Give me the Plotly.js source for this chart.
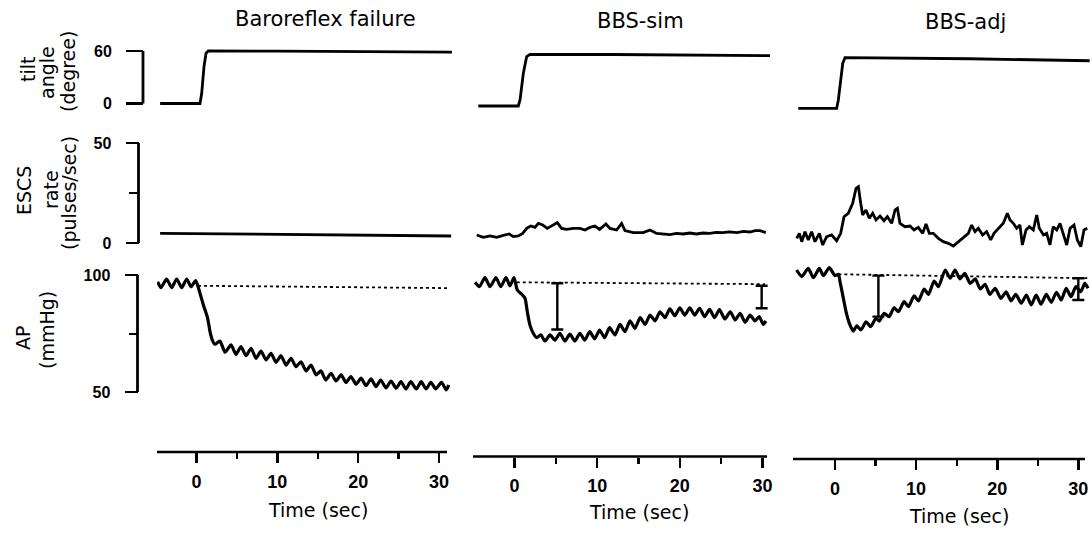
<!DOCTYPE html>
<html>
<head>
<meta charset="utf-8">
<script src="https://cdn.plot.ly/plotly-3.0.1.min.js"></script>
<style>html,body{margin:0;padding:0;background:#fff;}#chart{width:1090px;height:533px;}</style>
</head>
<body>
<div id="chart"></div>
<script>
// ---------------- DATA ----------------
const columnTitles = ["Baroreflex failure", "BBS-sim", "BBS-adj"];
const rowTitles = [["tilt", "angle", "(degree)"], ["ESCS", "rate", "(pulses/sec)"], ["AP", "(mmHg)"]];
const xTitle = "Time (sec)";
const xTickVals = [0, 10, 20, 30];
const xTickText = ["0", "10", "20", "30"];
const xMinorVals = [5, 15, 25];
const yTickVals = [[0, 60], [0, 50], [50, 100]];
const yTickText = [["0", "60"], ["0", "50"], ["50", "100"]];
const yMinorVals = [[], [25], [75]];

// tilt angle (degree): [time s, value]
const tilt1 = [[-4.5,0],[0.43,0],[0.64,11.4],[0.93,42.3],[1.18,57.5],[1.46,60],[10,59.8],[20,59.4],[31.6,58.8]];
const tilt2 = [[-4.38,1.7],[0.46,1.7],[0.67,8.6],[1.07,39.1],[1.47,58.1],[1.87,60.8],[12,60.6],[22,60.0],[31.1,59.2]];
const tilt3 = [[-4.53,1.9],[0.21,1.9],[0.41,11.4],[0.7,34.3],[0.95,53.4],[1.23,59.8],[16.6,58.6],[31.4,56.3]];

// ESCS rate (pulses/sec)
const escs1 = [[-4.5,4.85],[5,4.5],[15,4.0],[25,3.7],[31.5,3.5]];
const escs2 = [[-4.57,6.0],[-3.77,4.8],[-2.96,5.5],[-2.15,4.8],[-1.35,5.8],[-0.63,6.5],[-0.14,5.2],[0.46,5.5],[0.99,6.8],[1.47,9.3],[1.96,10.5],[2.48,9.8],[2.88,11.8],[3.41,11.0],[3.97,9.3],[4.62,11.0],[5.18,12.2],[5.7,9.3],[6.3,8.8],[7.1,9.3],[7.92,9.3],[8.52,8.5],[9.13,9.8],[9.73,10.5],[10.3,8.8],[11.06,11.5],[11.55,9.3],[12.36,8.5],[12.96,11.8],[13.36,8.2],[14.37,7.2],[15.57,7.2],[16.4,8.5],[17.2,6.8],[18.0,6.5],[18.8,6.2],[19.6,6.8],[20.4,6.5],[21.2,7.0],[22.0,6.5],[22.8,7.0],[23.6,6.8],[24.4,7.3],[25.2,7.2],[26.0,7.6],[26.9,7.2],[27.7,7.8],[28.5,7.5],[29.1,8.2],[29.7,8.2],[30.4,7.2]];
const escs3 = [[-4.72,5.6],[-4.4,8.1],[-4.1,3.9],[-3.7,8.9],[-3.29,4.75],[-2.88,8.9],[-2.47,3.9],[-1.93,8.1],[-1.52,2.25],[-1.03,6.4],[-0.41,7.25],[0.2,4.4],[0.7,8.1],[1.11,16.4],[1.64,18.1],[2.18,23.1],[2.59,30.6],[2.88,31.4],[3.17,23.1],[3.41,17.25],[3.82,19.75],[4.23,15.6],[4.65,18.1],[5.06,14.75],[5.55,16.75],[6.04,14.4],[6.45,16.4],[6.99,13.1],[7.4,19.75],[7.69,20.6],[8.01,13.1],[8.63,11.4],[9.25,11.75],[9.74,9.75],[10.27,11.1],[10.81,8.1],[11.22,12.75],[11.63,8.1],[12.12,8.1],[12.74,5.6],[13.35,3.9],[13.97,3.1],[14.59,1.75],[15.2,3.9],[15.82,5.6],[16.44,8.1],[16.85,12.25],[17.26,8.9],[17.67,10.6],[18.2,7.25],[18.7,8.9],[19.2,4.75],[19.6,8.1],[20.1,10.1],[20.75,13.1],[21.25,18.1],[21.58,14.75],[21.99,13.1],[22.4,10.6],[22.8,12.25],[23.1,2.25],[23.55,9.75],[23.96,11.4],[24.45,9.75],[24.87,17.25],[25.19,10.6],[25.7,7.25],[26.1,8.1],[26.5,2.25],[26.9,11.4],[27.34,9.75],[27.74,13.1],[28.15,8.1],[28.57,2.25],[28.98,10.6],[29.47,12.25],[29.88,4.75],[30.3,1.4],[30.7,9.75],[31.1,10.6]];

// AP (mmHg)
const ap1 = [[-4.8,97.1],[-4.4,94.6],[-3.7,98.3],[-3.07,94.6],[-2.45,98.3],[-1.83,94.6],[-1.21,98.3],[-0.68,95.0],[-0.1,97.6],[0.31,93.6],[0.85,87.2],[1.38,81.5],[1.67,75.8],[1.96,72.2],[2.29,70.4],[2.9,71.8],[3.53,67.0],[4.27,70.1],[4.89,66.1],[5.5,69.4],[6.13,65.5],[6.75,68.7],[7.36,64.4],[7.98,67.5],[8.6,63.7],[9.22,66.5],[9.84,62.7],[10.46,65.5],[11.08,61.5],[11.7,64.4],[12.3,60.8],[12.93,62.9],[13.55,59.0],[14.17,61.5],[14.8,57.3],[15.4,59.0],[16.0,55.1],[16.65,58.0],[17.26,54.7],[17.9,57.3],[18.5,54.1],[19.1,56.6],[19.75,53.3],[20.36,55.9],[20.98,52.7],[21.6,55.6],[22.2,52.3],[22.8,55.1],[23.45,51.8],[24.07,54.7],[24.7,51.6],[25.3,54.4],[25.9,51.3],[26.5,54.4],[27.2,51.3],[27.8,54.4],[28.4,51.3],[29.0,54.1],[29.6,51.3],[30.3,54.1],[30.9,50.9],[31.2,53.0]];
const ap2 = [[-4.78,98.6],[-4.25,96.7],[-3.57,100.6],[-2.96,96.7],[-2.24,100.6],[-1.67,96.7],[-1.03,100.6],[-0.54,97.1],[-0.06,100.6],[0.34,95.3],[0.87,93.5],[1.27,91.8],[1.55,86.0],[1.87,80.3],[2.27,76.8],[2.68,74.9],[3.17,76.1],[3.69,73.5],[4.29,76.1],[4.9,73.9],[5.5,76.8],[6.1,73.5],[6.7,76.4],[7.3,73.5],[7.9,76.8],[8.5,73.9],[9.1,77.5],[9.7,74.4],[10.3,78.2],[10.9,74.9],[11.5,79.2],[12.15,76.1],[12.76,80.6],[13.36,77.5],[13.97,82.1],[14.57,78.9],[15.2,83.5],[15.8,80.6],[16.4,84.6],[17.0,82.1],[17.6,86.0],[18.2,83.5],[18.8,87.2],[19.4,84.3],[20.0,87.7],[20.6,84.6],[21.2,87.7],[21.8,84.6],[22.4,87.5],[23.0,83.9],[23.6,87.0],[24.2,83.5],[24.8,86.9],[25.45,82.9],[26.1,86.0],[26.7,82.5],[27.3,85.3],[27.9,81.5],[28.5,84.6],[29.1,82.1],[29.6,83.9],[30.1,80.6],[30.4,82.1]];
const ap3 = [[-4.73,104.9],[-4.1,102.1],[-3.3,105.6],[-2.67,101.6],[-1.93,105.6],[-1.44,102.5],[-0.7,105.9],[0,102.5],[0.41,103.1],[0.62,99.9],[1.03,92.8],[1.36,87.1],[1.77,82.1],[2.26,78.8],[2.67,81.1],[3.2,79.3],[3.83,82.8],[4.4,80.7],[5.06,84.3],[5.47,83.1],[6.05,86.4],[6.67,85.0],[7.28,88.8],[7.82,87.1],[8.52,91.4],[9.05,89.2],[9.75,93.9],[10.29,91.7],[10.99,96.8],[11.52,94.5],[12.22,100.2],[12.76,97.8],[13.58,104.9],[14.2,101.4],[14.8,104.9],[15.4,101.1],[16.0,103.5],[16.67,99.2],[17.3,101.1],[17.9,96.8],[18.5,98.8],[19.1,94.5],[19.75,97.1],[20.45,92.8],[21.1,95.6],[21.7,91.7],[22.3,94.5],[22.96,90.7],[23.6,94.2],[24.2,90.0],[24.8,94.2],[25.4,90.3],[26.05,94.5],[26.67,91.1],[27.3,95.4],[27.9,92.1],[28.5,97.1],[29.1,93.5],[29.7,97.8],[30.3,95.6],[30.8,99.2],[31.2,97.1]];

// pre-tilt AP reference level (dotted)
const base1 = [[0.19,95.4],[31.1,94.4]];
const base2 = [[0.27,98.6],[30.3,97.8]];
const base3 = [[0.41,103.1],[31.2,101.4]];

// AP fall markers: time, upper level, lower level
const markT2 = [5.18, 29.9], markTop2 = [98.2, 97.1], markBot2 = [78.4, 87.5];
const markT3 = [5.35, 30.0], markTop3 = [102.5, 101.4], markBot3 = [85.0, 92.1];

// ---------------- LAYOUT GEOMETRY (pixels) ----------------
const W = 1090, H = 533;
const colDomPx = [[157, 452], [473, 770], [793, 1090]];
const colRange = [[-4.887, 31.61], [-5.02, 30.91], [-5.18, 31.44]];
const colOff = [0, 4, 6.5];
const rowDomPx = [[38, 118], [128, 253], [256, 420]];
const rowRange = [[-16.57, 74.86], [-5, 57.5], [38.03, 108.12]];
const xAxisPx = [452, 456.5, 459];
const xLineEnd = [0.983, 0.99, 0.983];
const yAxisPx = [143, 138.5, 137.5];
const yTickLen = [17, 13, 13];
const yMinorLen = [0, 10, 9];

const FT = "DejaVu Sans, sans-serif";
const FN = "Liberation Sans, Arial, sans-serif";

const tiltData = [tilt1, tilt2, tilt3];
const escsData = [escs1, escs2, escs3];
const apData = [ap1, ap2, ap3];
const baseData = [base1, base2, base3];
const marks = [null, [markT2, markTop2, markBot2], [markT3, markTop3, markBot3]];

function yName(k) { return k === 1 ? 'y' : 'y' + k; }
function yKey(k) { return k === 1 ? 'yaxis' : 'yaxis' + k; }
function xName(c) { return c === 0 ? 'x' : 'x' + (c + 1); }
function xKey(c) { return c === 0 ? 'xaxis' : 'xaxis' + (c + 1); }

const traces = [];
const layout = {
  width: W, height: H, margin: {l: 0, r: 0, t: 0, b: 0},
  paper_bgcolor: '#fff', plot_bgcolor: 'rgba(0,0,0,0)',
  showlegend: false, shapes: [], annotations: [],
  font: {family: FT, color: '#000'}
};

function line(data, xa, ya, width, dash, smooth) {
  const ln = {color: '#000', width: width, dash: dash || 'solid'};
  if (smooth) { ln.shape = 'spline'; ln.smoothing = smooth; }
  return {type: 'scatter', mode: 'lines', x: data.map(d => d[0]), y: data.map(d => d[1]),
    xaxis: xa, yaxis: ya, hoverinfo: 'skip', line: ln};
}

for (let c = 0; c < 3; c++) {
  layout[xKey(c)] = {
    domain: [colDomPx[c][0] / W, colDomPx[c][1] / W], range: colRange[c],
    anchor: 'free', position: 1 - xAxisPx[c] / H,
    showline: false, showgrid: false, zeroline: false, fixedrange: true,
    tickmode: 'array', tickvals: xTickVals, ticktext: xTickText,
    ticks: 'outside', ticklen: 10, tickwidth: 2.6, tickcolor: '#000',
    ticklabelstandoff: 3,
    tickfont: {family: FN, size: 18, color: '#000', weight: 'bold'},
    minor: {tickmode: 'array', tickvals: xMinorVals, ticks: 'outside', ticklen: 6, tickwidth: 2.2, tickcolor: '#000', showgrid: false}
  };
  layout.shapes.push({type: 'line', xref: xName(c) + ' domain', yref: 'paper',
    x0: 0, x1: xLineEnd[c], y0: 1 - xAxisPx[c] / H, y1: 1 - xAxisPx[c] / H,
    line: {color: '#000', width: 2.6}});

  for (let r = 0; r < 3; r++) {
    const k = 3 * c + r + 1;
    const ax = {
      domain: [1 - (rowDomPx[r][1] + colOff[c]) / H, 1 - (rowDomPx[r][0] + colOff[c]) / H],
      range: rowRange[r], showgrid: false, zeroline: false, showline: false, fixedrange: true
    };
    if (c === 0) {
      Object.assign(ax, {
        anchor: 'free', position: yAxisPx[r] / W,
        tickmode: 'array', tickvals: yTickVals[r], ticktext: yTickText[r],
        ticks: 'outside', ticklen: yTickLen[r], tickwidth: 2.6, tickcolor: '#000',
        ticklabelstandoff: 11,
        tickfont: {family: FN, size: 16, color: '#000', weight: 'bold'}
      });
      if (yMinorVals[r].length) {
        ax.minor = {tickmode: 'array', tickvals: yMinorVals[r], ticks: 'outside', ticklen: yMinorLen[r], tickwidth: 2, tickcolor: '#000', showgrid: false};
      }
      layout.shapes.push({type: 'line', xref: 'paper', yref: yName(k),
        x0: yAxisPx[r] / W, x1: yAxisPx[r] / W, y0: yTickVals[r][0], y1: yTickVals[r][1],
        line: {color: '#000', width: 2.8}});
    } else {
      ax.visible = false;
      ax.anchor = xName(c);
    }
    layout[yKey(k)] = ax;
  }

  traces.push(line(tiltData[c], xName(c), yName(3 * c + 1), 2.8));
  traces.push(line(escsData[c], xName(c), yName(3 * c + 2), 2.8));
  traces.push(line(baseData[c], xName(c), yName(3 * c + 3), 1.8, 'dot'));
  traces.push(line(apData[c], xName(c), yName(3 * c + 3), 3.2, null, 0.6));
  if (marks[c]) {
    const [mt, mtop, mbot] = marks[c];
    traces.push({type: 'scatter', mode: 'markers', x: mt, y: mtop,
      xaxis: xName(c), yaxis: yName(3 * c + 3), hoverinfo: 'skip',
      marker: {size: 1, color: 'rgba(0,0,0,0)'},
      error_y: {type: 'data', symmetric: false, array: mt.map(() => 0),
        arrayminus: mtop.map((v, i) => v - mbot[i]),
        width: 6, thickness: 2.4, color: '#000'}});
  }
}

// column titles
const colTitlePx = [[325, 19], [640, 21], [965, 22]];
const timeTitlePx = [[317.5, 510], [639, 512], [958.5, 516]];
for (let c = 0; c < 3; c++) {
  layout.annotations.push({text: columnTitles[c], xref: 'paper', yref: 'paper',
    x: colTitlePx[c][0] / W, y: 1 - colTitlePx[c][1] / H, showarrow: false,
    xanchor: 'center', yanchor: 'middle', font: {family: FT, size: 21, color: '#000'}});
  layout.annotations.push({text: xTitle, xref: 'paper', yref: 'paper',
    x: timeTitlePx[c][0] / W, y: 1 - timeTitlePx[c][1] / H, showarrow: false,
    xanchor: 'center', yanchor: 'middle', font: {family: FT, size: 19, color: '#000'}});
}
// row titles (rotated), one annotation per line
const rowTitlePx = [[[28, 70], [47, 73], [68, 72]], [[24, 191], [51, 190], [69, 193]], [[23, 338], [47, 330]]];
for (let r = 0; r < 3; r++) {
  rowTitles[r].forEach((t, i) => {
    layout.annotations.push({text: t, xref: 'paper', yref: 'paper',
      x: rowTitlePx[r][i][0] / W, y: 1 - rowTitlePx[r][i][1] / H, showarrow: false,
      textangle: -90, xanchor: 'center', yanchor: 'middle',
      font: {family: FT, size: 19, color: '#000'}});
  });
}

Plotly.newPlot('chart', traces, layout, {staticPlot: true, displayModeBar: false});
</script>
</body>
</html>
